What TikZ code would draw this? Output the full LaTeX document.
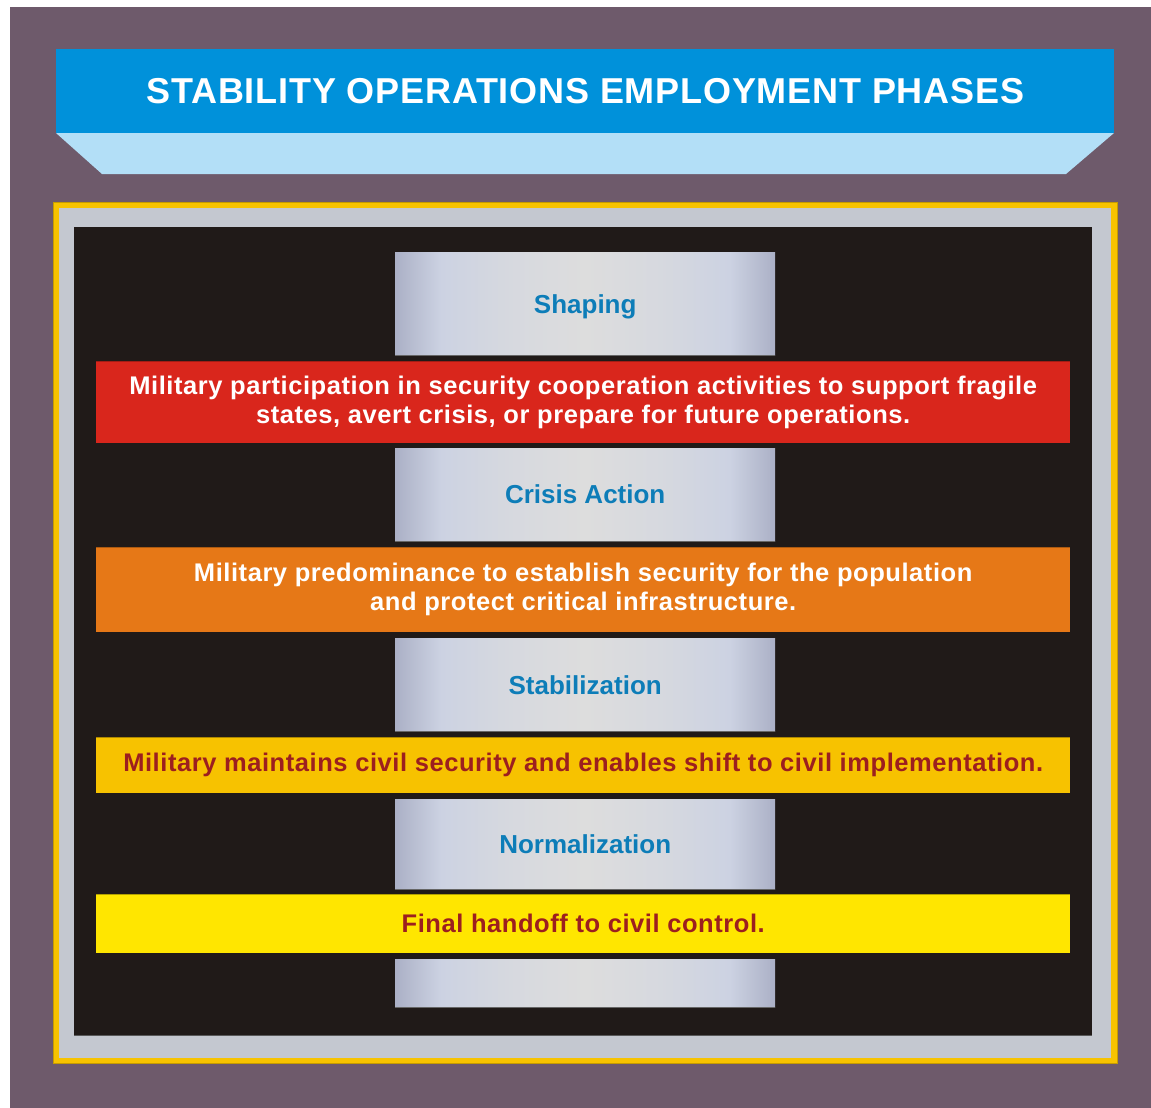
\documentclass[tikz,border=0pt]{standalone}
\usepackage{fontspec}
\setmainfont{Liberation Sans}
\newfontfamily\bodyfont[LetterSpace=2.2]{Liberation Sans}
\newfontfamily\headfont[LetterSpace=2.2]{Liberation Sans}
\definecolor{bgpurple}{HTML}{6E5A6B}
\definecolor{titleblue}{HTML}{0091DA}
\definecolor{lightblue}{HTML}{B3DFF7}
\definecolor{framegold}{HTML}{F7C300}
\definecolor{framegrey}{HTML}{C4C8D0}
\definecolor{panelblack}{HTML}{201A18}
\definecolor{barred}{HTML}{D9261C}
\definecolor{barorange}{HTML}{E67817}
\definecolor{baramber}{HTML}{F7C200}
\definecolor{baryellow}{HTML}{FFE600}
\definecolor{textred}{HTML}{9C1F1F}
\definecolor{textblue}{HTML}{0D7DB8}
\definecolor{stA}{HTML}{ABB0C6}
\definecolor{stB}{HTML}{CCD2E2}
\definecolor{stC}{HTML}{DDDDDD}
\pgfdeclarehorizontalshading{steel}{100bp}{color(0bp)=(stA); color(25bp)=(stA); color(31bp)=(stB); color(40bp)=(stC!60!stB); color(50bp)=(stC); color(60bp)=(stC!60!stB); color(69bp)=(stB); color(75bp)=(stA); color(100bp)=(stA)}
\tikzset{
  phasebox/.style={shading=steel, inner sep=0pt, anchor=north west, minimum width=380pt,
    text=textblue, font=\fontsize{26}{30}\selectfont\bfseries},
  barbox/.style={inner sep=0pt, anchor=north west, minimum width=974pt, align=center,
    font=\bodyfont\fontsize{25.5}{29}\selectfont\bfseries},
  edgeline/.style={line width=1pt},
}
\begin{document}
\begin{tikzpicture}[x=1pt,y=-1pt]
\useasboundingbox (0,0) rectangle (1151,1108);
\fill[white] (0,0) rectangle (1151,1108);
\fill[bgpurple] (10,7) rectangle (1151,1108);
% title
\fill[lightblue] (56,133) -- (1114,133) -- (1066,174) -- (102,174) -- cycle;
\node[fill=titleblue, anchor=north west, minimum width=1058pt, minimum height=84pt, inner sep=0pt,
  text=white, font=\headfont\fontsize{36}{40}\selectfont\bfseries] (title) at (56,49) {STABILITY OPERATIONS EMPLOYMENT PHASES};
% frame
\fill[framegold] (53,202) rectangle (1117,1063);
\draw[framegold!80!black, line width=0.8pt] (53,202) rectangle (1117,1063);
\fill[framegrey] (59,208) rectangle (1111,1058);
\fill[panelblack] (74,227) rectangle (1092,1035);
\draw[gray!70!black, line width=1pt] (74,1035) -- (1092,1035);
% phase boxes
\node[phasebox, minimum height=103pt, text depth=-3pt] (shaping) at (395,252) {Shaping};
\node[phasebox, minimum height=93pt] (crisis) at (395,448) {Crisis Action};
\node[phasebox, minimum height=93pt] (stab) at (395,638) {Stabilization};
\node[phasebox, minimum height=90pt] (norm) at (395,799) {Normalization};
\node[phasebox, minimum height=48pt] (last) at (395,959) {};
\foreach \n in {shaping,crisis,stab,norm,last}
  \draw[edgeline, black!60] (\n.south west) -- (\n.south east);
% bars
\node[barbox, fill=barred, text=white, minimum height=82pt] (b1) at (96,361)
  {Military participation in security cooperation activities to support fragile\\states, avert crisis, or prepare for future operations.};
\node[barbox, fill=barorange, text=white, minimum height=85pt] (b2) at (96,547)
  {Military predominance to establish security for the population\\and protect critical infrastructure.};
\node[barbox, fill=baramber, text=textred, minimum height=56pt] (b3) at (96,737)
  {Military maintains civil security and enables shift to civil implementation.};
\node[barbox, fill=baryellow, text=textred, minimum height=59pt] (b4) at (96,894)
  {Final handoff to civil control.};
\draw[edgeline, barred!75!black] (b1.north west) -- (b1.north east);
\draw[edgeline, barorange!75!black] (b2.north west) -- (b2.north east);
\draw[edgeline, baramber!70!black] (b3.north west) -- (b3.north east);
\draw[edgeline, baryellow!70!black] (b4.north west) -- (b4.north east);
\end{tikzpicture}
\end{document}
